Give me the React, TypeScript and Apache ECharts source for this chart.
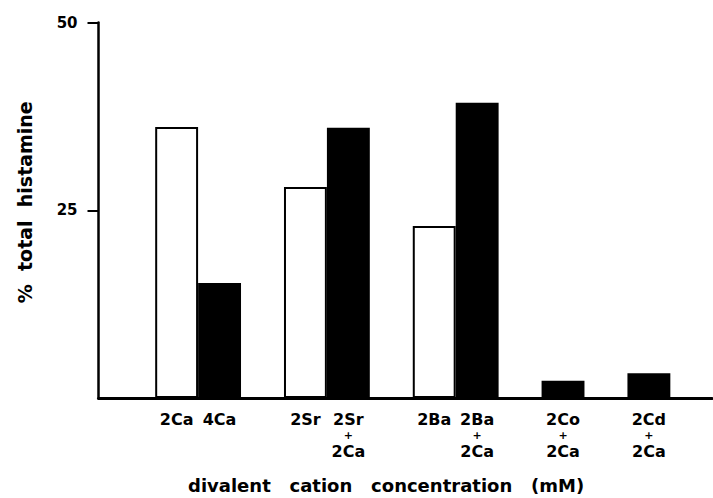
import React, { useEffect, useRef } from "react";
import * as echarts from "echarts";

// Category labels (line 1, optional line 2 after "+")
const labelTop = ["2Ca", "4Ca", "2Sr", "2Sr", "2Ba", "2Ba", "2Co", "2Cd"];
const labelBottom = ["", "", "", "2Ca", "", "2Ca", "2Ca", "2Ca"];
// Slot positions of each bar along the x axis
const positions = [0, 1, 3, 4, 6, 7, 9, 11];
// Open bars (divalent cation alone)
const openIdx = [0, 2, 4];
const openValues = [36.1, 28.1, 22.9];
// Filled bars
const filledIdx = [1, 3, 5, 6, 7];
const filledValues = [15.3, 36.0, 39.3, 2.3, 3.3];
const yTicks = [25, 50];

const FONT = "DejaVu Sans";

export default function App() {
  const ref = useRef<HTMLDivElement>(null);
  useEffect(() => {
    if (!ref.current) return;
    const chart = echarts.init(ref.current, null, { renderer: "svg" });
    const labelFor = (v: number) => {
      const i = positions.findIndex((p) => Math.abs(p - v) < 1e-6);
      if (i < 0) return "";
      if (!labelBottom[i]) return `{a|${labelTop[i]}}`;
      return `{a|${labelTop[i]}}\n{p|+}\n{a|${labelBottom[i]}}`;
    };
    chart.setOption({
      animation: false,
      backgroundColor: "#ffffff",
      title: {
        text: "divalent   cation   concentration   (mM)",
        left: 188,
        top: 476,
        padding: 0,
        textStyle: { fontFamily: FONT, fontSize: 18, fontWeight: "bold", color: "#000" },
      },
      grid: { left: 98.5, right: 1, top: 22.5, bottom: 100, containLabel: false },
      xAxis: {
        type: "value",
        min: -1.82,
        max: 12.47,
        splitLine: { show: false },
        axisLine: { show: true, onZero: false, lineStyle: { color: "#000", width: 3 } },
        axisTick: { show: false },
        axisLabel: {
          show: true,
          customValues: positions,
          formatter: (v: number) => labelFor(v),
          margin: 12,
          rich: {
            a: { fontFamily: FONT, fontSize: 16, fontWeight: "bold", color: "#000", lineHeight: 18 },
            p: { fontFamily: FONT, fontSize: 11, color: "#000", lineHeight: 14, fontWeight: "bold" },
          },
        },
      },
      yAxis: {
        type: "value",
        min: 0,
        max: 50,
        interval: 25,
        name: "%  total  histamine",
        nameLocation: "middle",
        nameGap: 64,
        nameTextStyle: { fontFamily: FONT, fontSize: 19, fontWeight: "bold", color: "#000", padding: [0, 0, 0, 16] },
        splitLine: { show: false },
        axisLine: { show: true, onZero: false, lineStyle: { color: "#000", width: 2.5 } },
        axisTick: { show: true, customValues: yTicks, length: 11, lineStyle: { color: "#000", width: 2 } },
        axisLabel: {
          customValues: yTicks,
          formatter: (v: number) => (v === 0 ? "" : String(v)),
          margin: 21,
          fontFamily: FONT,
          fontSize: 15,
          fontWeight: "bold",
          color: "#000",
        },
      },
      series: [
        {
          type: "bar",
          name: "alone",
          barWidth: 42.9,
          barGap: "-100%",
          data: openIdx.map((i, k) => [positions[i], openValues[k]]),
          itemStyle: { color: "#ffffff", borderColor: "#000", borderWidth: 2 },
        },
        {
          type: "bar",
          name: "with Ca",
          barWidth: 42.9,
          barGap: "-100%",
          data: filledIdx.map((i, k) => [positions[i], filledValues[k]]),
          itemStyle: { color: "#000" },
        },
      ],
    });
    return () => chart.dispose();
  }, []);
  return (
    <div
      ref={ref}
      style={{ position: "absolute", left: 0, top: 0, width: 713, height: 498 }}
    />
  );
}
